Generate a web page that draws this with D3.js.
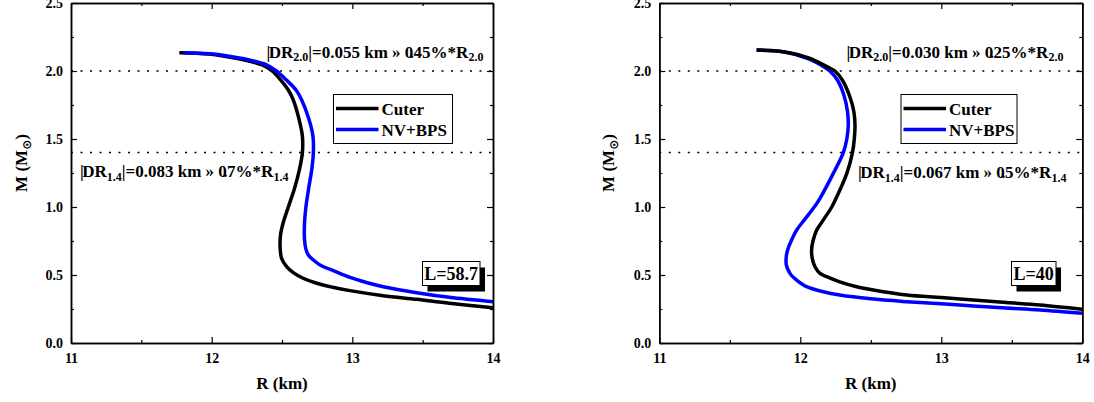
<!DOCTYPE html>
<html>
<head>
<meta charset="utf-8">
<script src="https://cdn.jsdelivr.net/npm/d3@7"></script>
<style>
	body { margin: 0; background: #fff; }
	text { font-family: "Liberation Serif", "Times New Roman", serif; font-weight: bold; fill: #000; }
</style>
</head>
<body>
<svg width="1094" height="402"></svg>
<script>
// tick values
const xMajor = [11, 12, 13, 14];
const xMinor = [11.5, 12.5, 13.5];
const yMajor = [0.0, 0.5, 1.0, 1.5, 2.0, 2.5];
const yMinor = [0.25, 0.75, 1.25, 1.75, 2.25];
const refMass = [2.0, 1.4];

// L = 58.7, Cuter EoS (R in km, M in solar masses)
const cuterR58 = [11.77, 11.98, 12.21, 12.30, 12.36, 12.43, 12.49, 12.545, 12.58, 12.62, 12.645, 12.645, 12.625, 12.59, 12.545, 12.51, 12.49, 12.486, 12.49, 12.497, 12.533, 12.58, 12.65, 12.747, 12.86, 12.983, 13.22, 13.457, 13.69, 14.0];
const cuterM58 = [2.135, 2.125, 2.086, 2.064, 2.044, 2.00, 1.935, 1.86, 1.787, 1.65, 1.52, 1.40, 1.28, 1.14, 1.00, 0.89, 0.80, 0.72, 0.66, 0.623, 0.561, 0.517, 0.476, 0.439, 0.41, 0.385, 0.348, 0.321, 0.292, 0.26];
// L = 58.7, NV+BPS
const nvR58 = [11.80, 11.99, 12.23, 12.32, 12.38, 12.46, 12.53, 12.60, 12.64, 12.69, 12.72, 12.723, 12.712, 12.69, 12.67, 12.66, 12.66, 12.67, 12.687, 12.723, 12.77, 12.865, 12.983, 13.10, 13.22, 13.457, 13.69, 14.0];
const nvM58 = [2.135, 2.127, 2.09, 2.068, 2.05, 2.00, 1.935, 1.86, 1.787, 1.65, 1.52, 1.40, 1.28, 1.14, 1.00, 0.88, 0.76, 0.69, 0.647, 0.61, 0.574, 0.532, 0.482, 0.445, 0.414, 0.37, 0.336, 0.304];

// L = 40, Cuter EoS
const cuterR40 = [11.69, 11.879, 12.069, 12.187, 12.246, 12.30, 12.355, 12.38, 12.388, 12.383, 12.37, 12.33, 12.27, 12.223, 12.16, 12.116, 12.09, 12.08, 12.085, 12.104, 12.14, 12.187, 12.28, 12.40, 12.518, 12.755, 13.0, 13.227, 13.46, 13.70, 14.0];
const cuterM40 = [2.154, 2.142, 2.093, 2.032, 2.00, 1.93, 1.80, 1.70, 1.60, 1.50, 1.40, 1.247, 1.10, 1.00, 0.90, 0.83, 0.75, 0.684, 0.62, 0.561, 0.512, 0.488, 0.45, 0.414, 0.39, 0.353, 0.334, 0.316, 0.297, 0.279, 0.248];
// L = 40, NV+BPS
const nvR40 = [11.69, 11.879, 12.06, 12.17, 12.21, 12.265, 12.31, 12.335, 12.34, 12.33, 12.305, 12.234, 12.17, 12.116, 12.04, 11.974, 11.935, 11.91, 11.90, 11.90, 11.912, 11.935, 11.974, 12.045, 12.163, 12.28, 12.50, 12.755, 13.0, 13.227, 13.46, 13.70, 14.0];
const nvM40 = [2.154, 2.142, 2.09, 2.03, 2.00, 1.93, 1.82, 1.70, 1.60, 1.50, 1.40, 1.247, 1.12, 1.025, 0.92, 0.83, 0.75, 0.684, 0.63, 0.58, 0.54, 0.50, 0.463, 0.414, 0.377, 0.353, 0.325, 0.304, 0.288, 0.272, 0.257, 0.243, 0.218];

const seriesNames = ['Cuter', 'NV+BPS'];
const seriesColors = ['#000000', '#0000ff'];
const lLabels = ['L=58.7', 'L=40'];
const dR20 = ['0.055', '0.030'];
const pct20 = ['0.45', '0.25'];
const dR14 = ['0.083', '0.067'];
const pct14 = ['0.7', '0.5'];

const zip = (r, m) => r.map((d, i) => ({ r: d, m: m[i] }));

const panels = [
	{ left: 71, right: 493, ylabX: 27, curves: [zip(cuterR58, cuterM58), zip(nvR58, nvM58)], order: [0, 1],
	  a20: [266.5, 57.5], a14: [80, 177], legend: 333.5, legW: 119, lbox: [422.5, 57.5] },
	{ left: 659.3, right: 1082.3, ylabX: 614, curves: [zip(cuterR40, cuterM40), zip(nvR40, nvM40)], order: [1, 0],
	  a20: [846.5, 57.5], a14: [858, 178], legend: 901, legW: 116, lbox: [1011.5, 44.5] }
];

const plotTop = 3, plotBottom = 343;
const svg = d3.select('svg');

panels.forEach((p, k) => {
	const x = d3.scaleLinear().domain([11, 14]).range([p.left, p.right]);
	const y = d3.scaleLinear().domain([0, 2.5]).range([plotBottom, plotTop]);
	const g = svg.append('g');

	const clipId = 'clip' + k;
	g.append('clipPath').attr('id', clipId)
		.append('rect').attr('x', p.left).attr('y', plotTop).attr('width', p.right - p.left).attr('height', plotBottom - plotTop);

	// reference mass lines
	g.selectAll('.ref').data(refMass).enter().append('line')
		.attr('x1', p.left).attr('x2', p.right)
		.attr('y1', (d) => y(d)).attr('y2', (d) => y(d))
		.attr('stroke', '#000').attr('stroke-width', 1.5).attr('stroke-dasharray', '2,7.5');

	// curves
	const line = d3.line().x((d) => x(d.r)).y((d) => y(d.m)).curve(d3.curveCatmullRom.alpha(0.5));
	p.order.forEach((i) => {
		g.append('path')
			.datum(p.curves[i])
			.attr('clip-path', 'url(#' + clipId + ')')
			.attr('fill', 'none')
			.attr('stroke', seriesColors[i])
			.attr('stroke-width', 3.5)
			.attr('stroke-linejoin', 'round')
			.attr('d', line);
	});

	// axes with inward ticks on all sides
	const styleAxis = (sel) => {
		sel.select('.domain').attr('stroke-width', 1.5);
		sel.selectAll('.tick line').attr('stroke-width', 1.2);
		sel.selectAll('text').attr('font-size', 14).attr('font-family', null);
	};
	g.append('g').attr('transform', 'translate(0,' + plotBottom + ')')
		.call(d3.axisBottom(x).tickValues(xMajor).tickSize(-6).tickSizeOuter(0).tickPadding(10).tickFormat(d3.format('d')))
		.call(styleAxis);
	g.append('g').attr('transform', 'translate(0,' + plotBottom + ')')
		.call(d3.axisBottom(x).tickValues(xMinor).tickSize(-3).tickSizeOuter(0).tickFormat(''))
		.call(styleAxis);
	g.append('g').attr('transform', 'translate(0,' + plotTop + ')')
		.call(d3.axisTop(x).tickValues(xMajor).tickSize(-6).tickSizeOuter(0).tickFormat(''))
		.call(styleAxis);
	g.append('g').attr('transform', 'translate(0,' + plotTop + ')')
		.call(d3.axisTop(x).tickValues(xMinor).tickSize(-3).tickSizeOuter(0).tickFormat(''))
		.call(styleAxis);
	g.append('g').attr('transform', 'translate(' + p.left + ',0)')
		.call(d3.axisLeft(y).tickValues(yMajor).tickSize(-6).tickSizeOuter(0).tickPadding(8).tickFormat(d3.format('.1f')))
		.call(styleAxis);
	g.append('g').attr('transform', 'translate(' + p.left + ',0)')
		.call(d3.axisLeft(y).tickValues(yMinor).tickSize(-3).tickSizeOuter(0).tickFormat(''))
		.call(styleAxis);
	g.append('g').attr('transform', 'translate(' + p.right + ',0)')
		.call(d3.axisRight(y).tickValues(yMajor).tickSize(-6).tickSizeOuter(0).tickFormat(''))
		.call(styleAxis);
	g.append('g').attr('transform', 'translate(' + p.right + ',0)')
		.call(d3.axisRight(y).tickValues(yMinor).tickSize(-3).tickSizeOuter(0).tickFormat(''))
		.call(styleAxis);

	// axis titles
	g.append('text').attr('x', (p.left + p.right) / 2).attr('y', 389)
		.attr('text-anchor', 'middle').attr('font-size', 17).text('R (km)');
	const yl = g.append('text').attr('transform', 'translate(' + p.ylabX + ',163) rotate(-90)')
		.attr('text-anchor', 'middle').attr('font-size', 17);
	yl.append('tspan').text('M (M');
	yl.append('tspan').attr('dy', 4).attr('font-size', 12).attr('font-family', 'DejaVu Sans').text('\u2299');
	yl.append('tspan').attr('dy', -4).text(')');

	// delta R annotations; per-glyph dx gives the tight kerning of the original
	const deltaLabel = (pos, sub, val, pct) => {
		const t = g.append('text').attr('x', pos[0]).attr('y', pos[1]).attr('font-size', 17);
		t.append('tspan').attr('dx', '0 -1.5').text('|DR');
		t.append('tspan').attr('dy', 3.5).attr('font-size', 12).text(sub);
		t.append('tspan').attr('dy', -3.5).attr('dx', '0').text('|=' + val + ' km \u00bb ');
		t.append('tspan').attr('dx', '0 -3.5 -0.5').text(pct + '%*R');
		t.append('tspan').attr('dy', 3.5).attr('font-size', 12).text(sub);
	};
	deltaLabel(p.a20, '2.0', dR20[k], pct20[k]);
	deltaLabel(p.a14, '1.4', dR14[k], pct14[k]);

	// legend
	const lg = g.append('g').attr('transform', 'translate(' + p.legend + ',94.5)');
	lg.append('rect').attr('width', p.legW).attr('height', 49)
		.attr('fill', '#fff').attr('stroke', '#000').attr('stroke-width', 1);
	seriesNames.forEach((name, i) => {
		const yy = 14 + i * 21;
		lg.append('line').attr('x1', 2.5).attr('x2', 45).attr('y1', yy).attr('y2', yy)
			.attr('stroke', seriesColors[i]).attr('stroke-width', 3.5);
		lg.append('text').attr('x', 48).attr('y', yy + 6).attr('font-size', 17).text(name);
	});

	// L box with shadow
	const bx = p.lbox[0], bw = p.lbox[1];
	g.append('rect').attr('x', bx + 5).attr('y', 267.5).attr('width', bw).attr('height', 24).attr('fill', '#000');
	g.append('rect').attr('x', bx).attr('y', 261.5).attr('width', bw).attr('height', 24)
		.attr('fill', '#fff').attr('stroke', '#000').attr('stroke-width', 1);
	g.append('text').attr('x', bx + bw / 2).attr('y', 280).attr('text-anchor', 'middle')
		.attr('font-size', 18).text(lLabels[k]);
});
</script>
</body>
</html>
